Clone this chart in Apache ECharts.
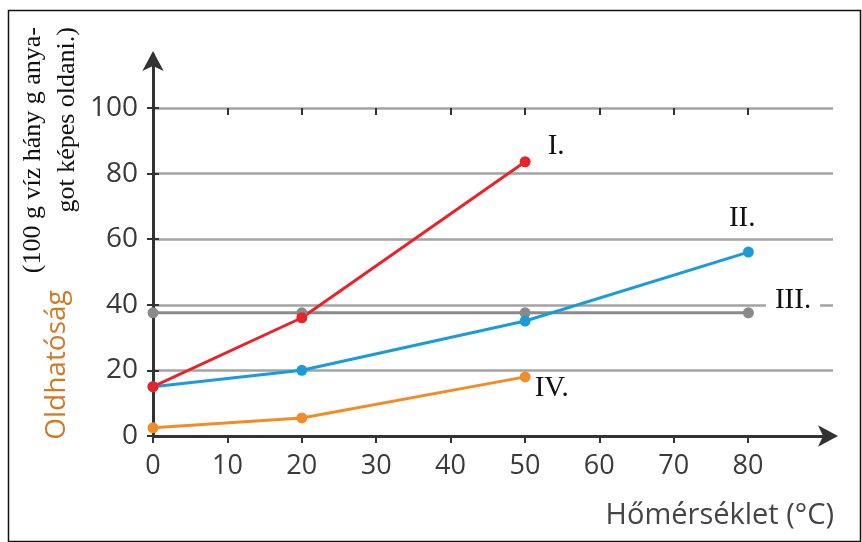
<!DOCTYPE html>
<html>
<head>
<meta charset="utf-8">
<script src="https://cdn.jsdelivr.net/npm/echarts@6/dist/echarts.min.js"></script>
<style>
html,body{margin:0;padding:0;background:#fff;}
#c{width:862px;height:542px;}
</style>
</head>
<body>
<div id="c"></div>
<script>
// Data
var temps = [0, 20, 50, 80];
var seriesI = [[0, 15], [20, 36], [50, 83.5]];
var seriesII = [[0, 15], [20, 20], [50, 35], [80, 56]];
var seriesIII = [[0, 37.5], [20, 37.5], [50, 37.5], [80, 37.5]];
var seriesIV = [[0, 2.5], [20, 5.5], [50, 18]];
var seriesNames = ['I.', 'II.', 'III.', 'IV.'];
var yTicks = [0, 20, 40, 60, 80, 100];
var xTicks = [0, 10, 20, 30, 40, 50, 60, 70, 80];
var yTitleLines = ['(100 g víz hány g anya-', 'got képes oldani.)'];
var yTitle = 'Oldhatóság';
var xTitle = 'Hőmérséklet (°C)';

var chart = echarts.init(document.getElementById('c'), null, {renderer: 'canvas'});
var sans = '"Open Sans", "Noto Sans", sans-serif';
var serif = '"Liberation Serif", "DejaVu Serif", serif';
var labelStyle = {fontFamily: serif, fontSize: 29, color: '#111'};

function withEndLabel(data, name, offset, extra) {
  return data.map(function (d, i) {
    if (i !== data.length - 1) return d;
    return {
      value: d,
      label: Object.assign({
        show: true, formatter: name, position: 'right', distance: 0,
        offset: offset, align: 'left', verticalAlign: 'middle'
      }, labelStyle, extra || {})
    };
  });
}

function lineSeries(name, data, color, offset, extra) {
  return {
    type: 'line', name: name, xAxisIndex: 0, yAxisIndex: 0,
    data: withEndLabel(data, name, offset, extra),
    symbol: 'circle', symbolSize: 11,
    lineStyle: {color: color, width: 3},
    itemStyle: {color: color},
    label: {show: false},
    silent: true, animation: false, z: 5
  };
}

var option = {
  backgroundColor: '#fff',
  animation: false,
  grid: [
    {left: 153, right: 28, top: 55, bottom: 106},
    {left: 153, right: 29, top: 108, bottom: 106},
    {left: 153, width: 595, top: 108, bottom: 106}
  ],
  xAxis: [
    {gridIndex: 0, type: 'value', min: 0, max: 91.5,
      axisLine: {show: true, lineStyle: {color: '#333', width: 3}, symbol: ['none', 'arrow'], symbolSize: [16, 20], symbolOffset: [0, 4]},
      axisTick: {show: false}, axisLabel: {show: false}, splitLine: {show: false}},
    {gridIndex: 1, type: 'value', min: 0, max: 1, show: false},
    {gridIndex: 2, type: 'value', min: 0, max: 80, interval: 10,
      axisLine: {show: false},
      axisTick: {show: true, length: 7, lineStyle: {color: '#333', width: 2}},
      axisLabel: {show: true, margin: 17, fontFamily: sans, fontSize: 27, color: '#3a3a3a',
        formatter: function (v) { return xTicks.indexOf(v) >= 0 ? String(v) : ''; }},
      splitLine: {show: false}},
    {gridIndex: 2, type: 'value', min: 0, max: 80, interval: 10,
      axisLine: {show: false},
      axisTick: {show: true, inside: true, length: 7, lineStyle: {color: '#333', width: 2}},
      axisLabel: {show: false}, splitLine: {show: false}}
  ],
  yAxis: [
    {gridIndex: 0, type: 'value', min: 0, max: 116,
      axisLine: {show: true, lineStyle: {color: '#333', width: 3}, symbol: ['none', 'arrow'], symbolSize: [16, 20], symbolOffset: [0, 4]},
      axisTick: {show: false}, axisLabel: {show: false}, splitLine: {show: false}},
    {gridIndex: 1, type: 'value', min: 0, max: 100, interval: 20,
      axisLine: {show: false},
      axisTick: {show: true, length: 6, lineStyle: {color: '#333', width: 2}},
      axisLabel: {show: true, margin: 15, fontFamily: sans, fontSize: 28, color: '#3a3a3a',
        formatter: function (v) { return yTicks.indexOf(v) >= 0 ? String(v) : ''; }},
      splitLine: {show: true, lineStyle: {color: '#a3a3a3', width: 2.5}}},
    {gridIndex: 2, type: 'value', min: 0, max: 100, interval: 20,
      axisLine: {show: false},
      axisTick: {show: true, inside: true, length: 6, lineStyle: {color: '#333', width: 2}},
      axisLabel: {show: false}, splitLine: {show: false}}
  ],
  series: [
    lineSeries(seriesNames[2], seriesIII, '#8a8a8a', [12, -12], {backgroundColor: '#fff', padding: [0, 9, 0, 9]}),
    lineSeries(seriesNames[3], seriesIV, '#f28c28', [4, 12]),
    lineSeries(seriesNames[1], seriesII, '#1b9bd8', [-25, -34]),
    lineSeries(seriesNames[0], seriesI, '#e8242b', [17, -15])
  ],
  graphic: [
    {type: 'rect', left: 6, top: 8, shape: {width: 852, height: 531},
      style: {fill: 'none', stroke: '#111', lineWidth: 1.5}, silent: true},
    {type: 'text', x: 33, y: 27, rotation: Math.PI / 2,
      style: {text: yTitleLines[0], font: '26px ' + serif, fill: '#111', align: 'right', verticalAlign: 'middle'}},
    {type: 'text', x: 67, y: 27, rotation: Math.PI / 2,
      style: {text: yTitleLines[1], font: '26px ' + serif, fill: '#111', align: 'right', verticalAlign: 'middle'}},
    {type: 'text', x: 57, y: 365, rotation: Math.PI / 2,
      style: {text: yTitle, font: '28px ' + sans, fill: '#cf7a26', align: 'center', verticalAlign: 'middle'}},
    {type: 'text', x: 834, y: 516,
      style: {text: xTitle, font: '29px ' + sans, fill: '#454545', align: 'right', verticalAlign: 'middle'}}
  ]
};
chart.setOption(option);
</script>
</body>
</html>
